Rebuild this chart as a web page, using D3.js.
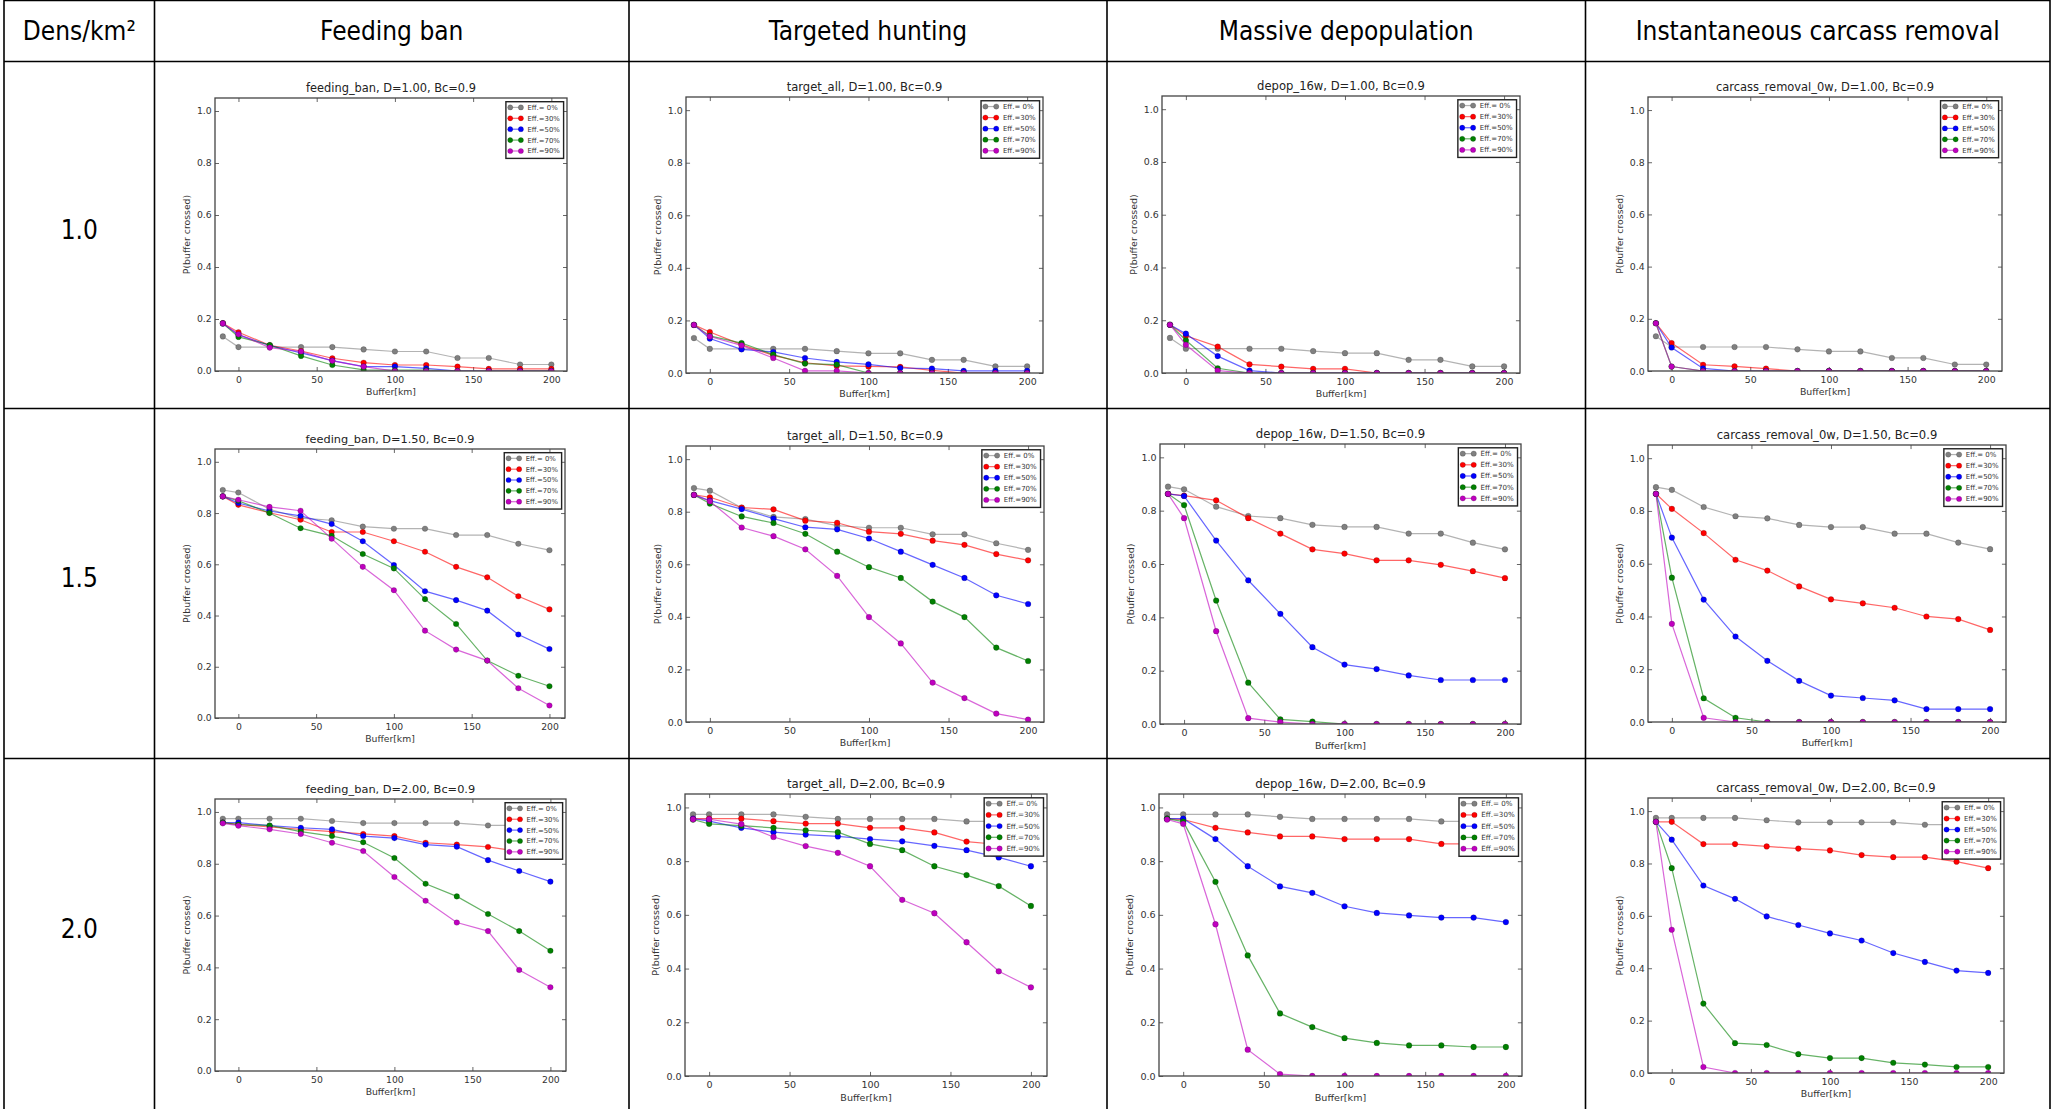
<!DOCTYPE html>
<html>
<head>
<meta charset="utf-8">
<script src="https://cdn.jsdelivr.net/npm/d3@7"></script>
<style>
  html, body { margin: 0; padding: 0; background: #fff; overflow: hidden; }
  svg { display: block; }
</style>
</head>
<body>
<svg id="chart" width="2051" height="1109"></svg>
<script>
// ---- data --------------------------------------------------------------
const buffers = [-10, 0, 20, 40, 60, 80, 100, 120, 140, 160, 180, 200];
const xTicks = [0, 50, 100, 150, 200];
const yTicks = [0, 0.2, 0.4, 0.6, 0.8, 1.0];
const densityLabels = ["1.0", "1.5", "2.0"];
const densityTitles = ["1.00", "1.50", "2.00"];
const measureHeaders = ["Feeding ban", "Targeted hunting", "Massive depopulation", "Instantaneous carcass removal"];
const scenarioNames = ["feeding_ban", "target_all", "depop_16w", "carcass_removal_0w"];
const effLabels = ["Eff.= 0%", "Eff.=30%", "Eff.=50%", "Eff.=70%", "Eff.=90%"];

// Eff. = 0% (no measure) per density
const base_D100 = [0.133, 0.092, 0.092, 0.092, 0.092, 0.083, 0.075, 0.075, 0.050, 0.050, 0.025, 0.025];
const base_D150 = [0.890, 0.880, 0.815, 0.780, 0.772, 0.747, 0.739, 0.739, 0.714, 0.714, 0.680, 0.655];
const base_D200 = [0.974, 0.974, 0.974, 0.974, 0.965, 0.957, 0.957, 0.957, 0.957, 0.948, 0.948, 0.948];

// Eff. = 30%, 50%, 70%, 90% for each measure and density
const feedingBan_D100 = [
  [0.184, 0.149, 0.099, 0.077, 0.049, 0.032, 0.023, 0.023, 0.017, 0.008, 0.008, 0.008],
  [0.183, 0.139, 0.098, 0.070, 0.040, 0.017, 0.017, 0.010, 0, 0, 0, 0],
  [0.183, 0.131, 0.100, 0.058, 0.023, 0.004, 0.003, 0.003, 0, 0, 0, 0],
  [0.183, 0.141, 0.090, 0.075, 0.039, 0.017, 0, 0, 0, 0, 0, 0]
];
const targetAll_D100 = [
  [0.183, 0.156, 0.108, 0.067, 0.039, 0.027, 0.025, 0.023, 0.010, 0, 0, 0],
  [0.183, 0.131, 0.090, 0.080, 0.057, 0.042, 0.033, 0.019, 0.017, 0.008, 0.008, 0.008],
  [0.183, 0.141, 0.114, 0.070, 0.036, 0.032, 0, 0, 0, 0, 0, 0],
  [0.183, 0.139, 0.105, 0.057, 0.008, 0.008, 0, 0, 0, 0, 0, 0]
];
const depop_D100 = [
  [0.183, 0.141, 0.100, 0.033, 0.024, 0.016, 0.016, 0, 0, 0, 0, 0],
  [0.183, 0.149, 0.064, 0.009, 0, 0, 0, 0, 0, 0, 0, 0],
  [0.183, 0.124, 0.018, 0, 0, 0, 0, 0, 0, 0, 0, 0],
  [0.183, 0.107, 0.009, 0, 0, 0, 0, 0, 0, 0, 0, 0]
];
const carcass_D100 = [
  [0.183, 0.107, 0.024, 0.018, 0.009, 0, 0, 0, 0, 0, 0, 0],
  [0.183, 0.090, 0.010, 0, 0, 0, 0, 0, 0, 0, 0, 0],
  [0.183, 0.017, 0, 0, 0, 0, 0, 0, 0, 0, 0, 0],
  [0.183, 0.017, 0, 0, 0, 0, 0, 0, 0, 0, 0, 0]
];
const feedingBan_D150 = [
  [0.865, 0.832, 0.801, 0.774, 0.726, 0.726, 0.690, 0.649, 0.590, 0.549, 0.475, 0.424],
  [0.865, 0.839, 0.808, 0.789, 0.757, 0.690, 0.597, 0.495, 0.460, 0.419, 0.326, 0.269],
  [0.865, 0.848, 0.800, 0.741, 0.711, 0.640, 0.584, 0.464, 0.367, 0.224, 0.165, 0.124],
  [0.865, 0.852, 0.824, 0.809, 0.700, 0.590, 0.499, 0.341, 0.267, 0.224, 0.116, 0.049]
];
const targetAll_D150 = [
  [0.864, 0.855, 0.816, 0.809, 0.766, 0.758, 0.724, 0.716, 0.690, 0.674, 0.639, 0.615],
  [0.864, 0.842, 0.810, 0.774, 0.741, 0.733, 0.698, 0.648, 0.598, 0.548, 0.482, 0.449],
  [0.864, 0.831, 0.782, 0.757, 0.716, 0.648, 0.589, 0.548, 0.458, 0.399, 0.283, 0.232],
  [0.864, 0.840, 0.740, 0.707, 0.657, 0.556, 0.399, 0.299, 0.150, 0.091, 0.032, 0.009]
];
const depop_D150 = [
  [0.863, 0.856, 0.839, 0.772, 0.714, 0.655, 0.639, 0.614, 0.614, 0.597, 0.573, 0.547],
  [0.863, 0.855, 0.688, 0.539, 0.413, 0.288, 0.223, 0.206, 0.182, 0.165, 0.165, 0.165],
  [0.863, 0.821, 0.463, 0.155, 0.017, 0.009, 0, 0, 0, 0, 0, 0],
  [0.863, 0.772, 0.348, 0.022, 0.007, 0, 0, 0, 0, 0, 0, 0]
];
const carcass_D150 = [
  [0.865, 0.808, 0.716, 0.615, 0.574, 0.514, 0.465, 0.450, 0.433, 0.400, 0.390, 0.349],
  [0.865, 0.699, 0.464, 0.324, 0.232, 0.156, 0.100, 0.091, 0.082, 0.049, 0.049, 0.049],
  [0.865, 0.547, 0.090, 0.016, 0, 0, 0, 0, 0, 0, 0, 0],
  [0.865, 0.372, 0.016, 0, 0, 0, 0, 0, 0, 0, 0, 0]
];
const feedingBan_D200 = [
  [0.959, 0.952, 0.942, 0.933, 0.924, 0.915, 0.907, 0.881, 0.874, 0.865, 0.848, 0.832],
  [0.959, 0.959, 0.947, 0.939, 0.933, 0.907, 0.899, 0.874, 0.866, 0.814, 0.772, 0.731],
  [0.959, 0.951, 0.948, 0.924, 0.907, 0.883, 0.822, 0.723, 0.674, 0.606, 0.540, 0.464],
  [0.956, 0.947, 0.933, 0.915, 0.881, 0.849, 0.749, 0.657, 0.573, 0.540, 0.390, 0.323]
];
const targetAll_D200 = [
  [0.958, 0.958, 0.958, 0.949, 0.940, 0.940, 0.924, 0.924, 0.907, 0.873, 0.862, 0.848],
  [0.958, 0.949, 0.924, 0.908, 0.899, 0.892, 0.882, 0.874, 0.857, 0.841, 0.814, 0.781],
  [0.955, 0.939, 0.932, 0.924, 0.915, 0.908, 0.864, 0.841, 0.781, 0.748, 0.707, 0.633],
  [0.956, 0.956, 0.938, 0.890, 0.856, 0.831, 0.781, 0.656, 0.606, 0.498, 0.390, 0.330]
];
const depop_D200 = [
  [0.958, 0.955, 0.924, 0.907, 0.892, 0.892, 0.882, 0.882, 0.882, 0.864, 0.864, 0.857],
  [0.958, 0.958, 0.882, 0.781, 0.706, 0.682, 0.632, 0.607, 0.598, 0.590, 0.590, 0.573],
  [0.958, 0.947, 0.723, 0.449, 0.233, 0.182, 0.141, 0.123, 0.114, 0.114, 0.108, 0.108],
  [0.955, 0.939, 0.565, 0.098, 0.007, 0, 0, 0, 0, 0, 0, 0]
];
const carcass_D200 = [
  [0.959, 0.959, 0.874, 0.874, 0.865, 0.857, 0.850, 0.832, 0.824, 0.824, 0.807, 0.782],
  [0.959, 0.891, 0.716, 0.665, 0.598, 0.565, 0.533, 0.506, 0.458, 0.424, 0.391, 0.382],
  [0.959, 0.782, 0.265, 0.114, 0.107, 0.072, 0.057, 0.057, 0.039, 0.032, 0.023, 0.023],
  [0.959, 0.547, 0.023, 0, 0, 0, 0, 0, 0, 0, 0, 0]
];

const baselines = [base_D100, base_D150, base_D200];
const panelSeries = [
  [feedingBan_D100, targetAll_D100, depop_D100, carcass_D100],
  [feedingBan_D150, targetAll_D150, depop_D150, carcass_D150],
  [feedingBan_D200, targetAll_D200, depop_D200, carcass_D200]
];

// ---- layout & style ----------------------------------------------------
const W = 2051, H = 1109;
const colEdges = [4, 154.5, 629, 1107, 1585.5, 2050];
const rowEdges = [0.5, 61.5, 408.5, 758.5];
const headerBaseline = 40;
const rowLabelBaselines = [239, 587, 938];

// axes boxes [left, top, right, bottom] of the embedded plots, row by row
const axesBoxes = [
  [215, 98, 567, 371], [686, 97, 1043, 373], [1162, 96, 1520, 373], [1648, 97, 2002, 371],
  [215, 449, 565, 718], [686, 446, 1044, 722], [1160, 444, 1521, 724], [1648, 445, 2006, 722],
  [215, 799, 566, 1071], [685, 794, 1047, 1076], [1159, 794, 1522, 1076], [1648, 798, 2004, 1073]
];
const effColors = ["#808080", "#ff0000", "#0000ff", "#008000", "#bf00bf"];
const cellFont = "'DejaVu Sans Condensed', 'DejaVu Sans', sans-serif";
const plotFont = "'DejaVu Sans', sans-serif";

const svg = d3.select("#chart");
svg.append("rect").attr("width", W).attr("height", H).attr("fill", "#fff");

// ---- table text ---------------------------------------------------------
const colCenters = d3.range(5).map(i => (colEdges[i] + colEdges[i + 1]) / 2);
const headerTexts = ["Dens/km²"].concat(measureHeaders);
svg.append("g").selectAll("text").data(headerTexts).join("text")
  .attr("x", (d, i) => colCenters[i])
  .attr("y", headerBaseline)
  .attr("text-anchor", "middle")
  .attr("font-family", cellFont)
  .attr("font-size", 26)
  .attr("fill", "#000")
  .text(d => d);

svg.append("g").selectAll("text").data(densityLabels).join("text")
  .attr("x", colCenters[0])
  .attr("y", (d, i) => rowLabelBaselines[i])
  .attr("text-anchor", "middle")
  .attr("font-family", cellFont)
  .attr("font-size", 26)
  .attr("fill", "#000")
  .text(d => d);

// ---- small multiples ----------------------------------------------------
function drawPanel(idx, box, title, seriesList) {
  const [x0, y0, x1, y1] = box;
  const k = (x1 - x0) / 352;
  const x = d3.scaleLinear().domain([-15, 210]).range([x0, x1]);
  const y = d3.scaleLinear().domain([0, 1.05]).range([y1, y0]);
  const g = svg.append("g").attr("class", "panel");

  const clipId = "clip" + idx;
  g.append("clipPath").attr("id", clipId)
    .append("rect").attr("x", x0).attr("y", y0).attr("width", x1 - x0).attr("height", y1 - y0);

  const fs = 9.3 * k;
  const tickLen = 4 * k;

  // ticks (inward on all four sides)
  const styleAxis = (sel) => {
    sel.select(".domain").remove();
    sel.selectAll(".tick line").attr("stroke", "#555").attr("stroke-width", 0.9);
    sel.selectAll(".tick text").attr("fill", "#333").attr("font-family", plotFont).attr("font-size", fs);
  };
  g.append("g").attr("transform", `translate(0,${y1})`)
    .call(d3.axisBottom(x).tickValues(xTicks).tickSize(-tickLen).tickPadding(5 * k).tickFormat(d3.format("d")))
    .call(styleAxis);
  g.append("g").attr("transform", `translate(0,${y0})`)
    .call(d3.axisTop(x).tickValues(xTicks).tickSize(-tickLen).tickFormat(""))
    .call(styleAxis);
  g.append("g").attr("transform", `translate(${x0},0)`)
    .call(d3.axisLeft(y).tickValues(yTicks).tickSize(-tickLen).tickPadding(3.3 * k).tickFormat(d3.format(".1f")))
    .call(styleAxis);
  g.append("g").attr("transform", `translate(${x1},0)`)
    .call(d3.axisRight(y).tickValues(yTicks).tickSize(-tickLen).tickFormat(""))
    .call(styleAxis);

  // series
  const line = d3.line().x((d, i) => x(buffers[i])).y(d => y(d));
  const plot = g.append("g").attr("clip-path", `url(#${clipId})`);
  seriesList.forEach((vals, s) => {
    plot.append("path").datum(vals)
      .attr("d", line)
      .attr("fill", "none")
      .attr("stroke", effColors[s])
      .attr("stroke-opacity", 0.6)
      .attr("stroke-width", 1.2 * k);
    plot.append("g").selectAll("circle").data(vals).join("circle")
      .attr("cx", (d, i) => x(buffers[i]))
      .attr("cy", d => y(d))
      .attr("r", 2.8 * k)
      .attr("fill", effColors[s])
      .attr("stroke", "#000")
      .attr("stroke-opacity", 0.35)
      .attr("stroke-width", 0.5);
  });

  // frame
  g.append("rect").attr("x", x0).attr("y", y0).attr("width", x1 - x0).attr("height", y1 - y0)
    .attr("fill", "none").attr("stroke", "#444").attr("stroke-width", 1.3);

  // title and axis labels
  g.append("text").attr("x", (x0 + x1) / 2).attr("y", y0 - 6 * k)
    .attr("text-anchor", "middle").attr("font-family", plotFont).attr("font-size", 11.4 * k)
    .attr("fill", "#222").text(title);
  g.append("text").attr("x", (x0 + x1) / 2).attr("y", y1 + 24 * k)
    .attr("text-anchor", "middle").attr("font-family", plotFont).attr("font-size", fs)
    .attr("fill", "#333").text("Buffer[km]");
  g.append("text")
    .attr("transform", `translate(${x0 - 25 * k},${(y0 + y1) / 2}) rotate(-90)`)
    .attr("text-anchor", "middle").attr("font-family", plotFont).attr("font-size", fs)
    .attr("fill", "#333").text("P(buffer crossed)");

  // legend
  const lw = 57.7 * k, lh = 56.7 * k;
  const lx = x1 - 3.4 * k - lw, ly = y0 + 3.7 * k;
  const lg = g.append("g");
  lg.append("rect").attr("x", lx).attr("y", ly).attr("width", lw).attr("height", lh)
    .attr("fill", "#fff").attr("stroke", "#222").attr("stroke-width", 1.4);
  effLabels.forEach((lab, s) => {
    const cy = ly + (5.7 + 10.9 * s) * k;
    const ax = lx + 4.3 * k, bx = lx + 15 * k;
    lg.append("line").attr("x1", ax).attr("x2", bx).attr("y1", cy).attr("y2", cy)
      .attr("stroke", effColors[s]).attr("stroke-opacity", 0.6).attr("stroke-width", 1.2 * k);
    [ax, bx].forEach(px => lg.append("circle").attr("cx", px).attr("cy", cy).attr("r", 2.6 * k)
      .attr("fill", effColors[s]).attr("stroke", "#000").attr("stroke-opacity", 0.35).attr("stroke-width", 0.5));
    lg.append("text").attr("x", lx + 21.6 * k).attr("y", cy + 2.4 * k)
      .attr("font-family", plotFont).attr("font-size", 6.9 * k).attr("fill", "#333")
      .attr("xml:space", "preserve").text(lab);
  });
}

densityTitles.forEach((dens, r) => {
  scenarioNames.forEach((name, c) => {
    const idx = r * 4 + c;
    const title = `${name}, D=${dens}, Bc=0.9`;
    drawPanel(idx, axesBoxes[idx], title, [baselines[r]].concat(panelSeries[r][c]));
  });
});

// ---- table grid -----------------------------------------------------------
const grid = svg.append("g").attr("stroke", "#000").attr("stroke-width", 1.6);
colEdges.forEach(cx => grid.append("line").attr("x1", cx).attr("x2", cx).attr("y1", 0).attr("y2", H));
rowEdges.forEach(ry => grid.append("line").attr("x1", colEdges[0]).attr("x2", colEdges[5]).attr("y1", ry).attr("y2", ry));
</script>
</body>
</html>
